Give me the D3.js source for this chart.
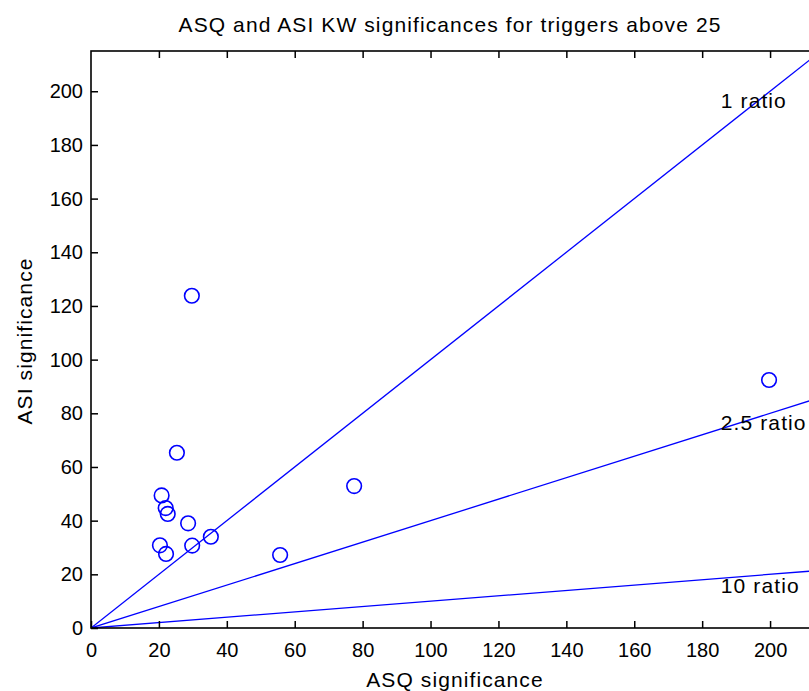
<!DOCTYPE html>
<html>
<head>
<meta charset="utf-8">
<title>ASQ and ASI KW significances</title>
<style>
body { margin: 0; background: #fff; }
text {
  font-family: "Liberation Sans", Arial, Helvetica, sans-serif;
  fill: #000;
}
.axis text { font-size: 20px; }
.axis line { stroke: #000; stroke-width: 1.5px; }
.axis path { display: none; }
.ratio { fill: none; stroke: #0000ff; stroke-width: 1.3px; }
.marker { fill: none; stroke: #0000ff; stroke-width: 1.6px; }
.label { font-size: 21px; letter-spacing: 1.1px; }
</style>
</head>
<body>
<script src="https://cdn.jsdelivr.net/npm/d3@7"></script>
<script>
// data
var asq = [29.7, 25.3, 20.8, 22.0, 22.6, 28.6, 20.3, 22.1, 29.8, 35.3, 55.7, 77.5, 199.7];
var asi = [123.8, 65.3, 49.4, 44.7, 42.5, 39.0, 30.8, 27.6, 30.7, 34.0, 27.2, 52.9, 92.4];

var ratios = [1, 2.5, 10];
var ratioLabels = ["1 ratio", "2.5 ratio", "10 ratio"];
var ratioLabelX = 185.5;
var ratioLabelY = [196.5, 76.5, 16];

var xTicks = [0, 20, 40, 60, 80, 100, 120, 140, 160, 180, 200];
var yTicks = [0, 20, 40, 60, 80, 100, 120, 140, 160, 180, 200];

var width = 809,
    height = 691;

// plot box (right edge runs past the window like in the original)
var boxLeft = 91, boxRight = 821, boxTop = 51, boxBottom = 628;

var x = d3.scaleLinear().domain([0, 215]).range([boxLeft, boxRight]);
var y = d3.scaleLinear().domain([0, 215]).range([boxBottom, boxTop]);

var svg = d3.select("body").append("svg")
    .attr("width", width)
    .attr("height", height);

svg.append("defs").append("clipPath")
    .attr("id", "plot-clip")
  .append("rect")
    .attr("x", boxLeft)
    .attr("y", boxTop)
    .attr("width", boxRight - boxLeft)
    .attr("height", boxBottom - boxTop);

// title
svg.append("text")
    .attr("class", "label")
    .attr("x", 450)
    .attr("y", 32)
    .attr("text-anchor", "middle")
    .text("ASQ and ASI KW significances for triggers above 25");

// ratio lines
var plot = svg.append("g").attr("clip-path", "url(#plot-clip)");

plot.selectAll("line.ratio")
    .data(ratios)
    .enter().append("line")
    .attr("class", "ratio")
    .attr("x1", x(0))
    .attr("y1", y(0))
    .attr("x2", x(215))
    .attr("y2", function(d) { return y(215 / d); });

// labels for the lines
svg.selectAll("text.ratio-label")
    .data(ratioLabels)
    .enter().append("text")
    .attr("class", "label ratio-label")
    .attr("x", x(ratioLabelX))
    .attr("y", function(d, i) { return y(ratioLabelY[i]); })
    .attr("dy", "0.36em")
    .text(function(d) { return d; });

// points
svg.selectAll("circle.marker")
    .data(asq)
    .enter().append("circle")
    .attr("class", "marker")
    .attr("cx", function(d) { return x(d); })
    .attr("cy", function(d, i) { return y(asi[i]); })
    .attr("r", 7.3);

// axes, ticks point inwards like matlab
svg.append("g")
    .attr("class", "axis")
    .attr("transform", "translate(0," + boxBottom + ")")
    .call(d3.axisBottom(x).tickValues(xTicks).tickSizeInner(-7).tickSizeOuter(0).tickPadding(15));

svg.append("g")
    .attr("class", "axis")
    .attr("transform", "translate(0," + boxTop + ")")
    .call(d3.axisTop(x).tickValues(xTicks.slice(1)).tickSizeInner(-7).tickSizeOuter(0).tickFormat(""));

svg.append("g")
    .attr("class", "axis")
    .attr("transform", "translate(" + boxLeft + ",0)")
    .call(d3.axisLeft(y).tickValues(yTicks).tickSizeInner(-7).tickSizeOuter(0).tickPadding(8));

// box round the axes
svg.append("rect")
    .attr("x", boxLeft)
    .attr("y", boxTop)
    .attr("width", boxRight - boxLeft)
    .attr("height", boxBottom - boxTop)
    .style("fill", "none")
    .style("stroke", "#000")
    .style("stroke-width", "1.6px");

// axis labels
svg.append("text")
    .attr("class", "label")
    .attr("x", 455)
    .attr("y", 687)
    .attr("text-anchor", "middle")
    .text("ASQ significance");

svg.append("text")
    .attr("class", "label")
    .attr("transform", "translate(32,341) rotate(-90)")
    .attr("text-anchor", "middle")
    .text("ASI significance");
</script>
</body>
</html>
